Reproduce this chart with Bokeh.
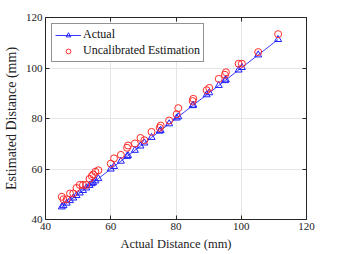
from bokeh.plotting import figure
from bokeh.models import LinearAxis, Range1d, FixedTicker, Legend, LegendItem, CustomLabelingPolicy
from bokeh.embed import file_html
from bokeh.resources import INLINE

actual_x = [45.0, 45.5, 46.5, 47.5, 48.5, 49.5, 50.5, 51.5, 52.5, 53.5, 54.2, 54.6, 55.3, 56.2,
            60.0, 61.0, 63.1, 65.0, 65.3, 67.4, 69.1, 70.3, 72.5, 75.0, 75.3, 77.9, 80.2, 80.7,
            85.1, 85.3, 89.4, 90.2, 93.1, 95.0, 95.3, 99.2, 100.2, 105.2, 111.3]
actual_y = list(actual_x)
estimated_y = [49.0, 48.0, 48.0, 50.3, 50.3, 52.5, 53.7, 53.7, 53.7, 56.1, 57.2, 57.8, 58.9, 59.5,
               62.1, 64.2, 65.6, 68.4, 69.3, 70.1, 72.3, 71.4, 74.7, 76.3, 77.2, 79.2, 81.7, 84.1,
               86.9, 87.8, 91.2, 92.1, 95.7, 97.3, 98.3, 101.7, 101.7, 106.3, 113.4]
ticks = [40, 60, 80, 100, 120]

FONT = "Liberation Serif"
DARK = "#262626"

p = figure(frame_width=261, frame_height=202, output_backend="svg", toolbar_location=None,
           x_range=Range1d(40, 120), y_range=Range1d(40, 120),
           min_border_left=36, min_border_top=17, min_border_right=4, min_border_bottom=4,
           x_axis_label="Actual Distance (mm)", y_axis_label="Estimated Distance (mm)")
p.background_fill_color = "white"
p.border_fill_color = "white"
p.outline_line_color = DARK
p.outline_line_width = 1

for ax in [p.xaxis[0], p.yaxis[0]]:
    ax.ticker = FixedTicker(ticks=ticks)
    ax.major_tick_in = 4
    ax.major_tick_out = 0
    ax.minor_tick_in = 0
    ax.minor_tick_out = 0
    ax.axis_line_color = DARK
    ax.major_tick_line_color = DARK
    ax.major_label_text_font = FONT
    ax.major_label_text_font_size = "11px"
    ax.major_label_text_color = "#222222"
    ax.axis_label_text_font = FONT
    ax.axis_label_text_font_style = "normal"
    ax.axis_label_text_color = "#222222"
    ax.major_label_standoff = 3
    ax.axis_label_standoff = 4
p.xaxis[0].axis_label_text_font_size = "12.5px"
p.yaxis[0].axis_label_text_font_size = "14px"

for loc in ["above", "right"]:
    ax = LinearAxis(ticker=FixedTicker(ticks=ticks), major_tick_in=4, major_tick_out=0,
                    minor_tick_in=0, minor_tick_out=0,
                    major_label_policy=CustomLabelingPolicy(code="for (const i of Array.from(indices)) indices.unset(i)"),
                    axis_line_color=DARK, major_tick_line_color=DARK, major_label_standoff=0)
    p.add_layout(ax, loc)

p.xgrid.ticker = FixedTicker(ticks=ticks)
p.ygrid.ticker = FixedTicker(ticks=ticks)
p.grid.grid_line_color = "#e6e6e6"
p.grid.grid_line_width = 1

ln = p.line(actual_x, actual_y, line_color="#3b3bff", line_width=1)
tri = p.scatter(actual_x, actual_y, marker="triangle", size=7, fill_color=None,
                line_color="#2020ff", line_width=1)
circ = p.scatter(actual_x, estimated_y, marker="circle", size=7, fill_color=None,
                 line_color="#ff2a2a", line_width=1)

legend = Legend(items=[LegendItem(label="Actual", renderers=[ln, tri]),
                       LegendItem(label="Uncalibrated Estimation", renderers=[circ])],
                location="top_left")
legend.label_text_font = FONT
legend.label_text_font_size = "12px"
legend.label_text_color = "#111111"
legend.glyph_width = 26
legend.glyph_height = 12
legend.label_height = 12
legend.spacing = 1
legend.padding = 3
legend.margin = 6
legend.label_standoff = 2
legend.border_line_color = DARK
legend.border_line_width = 1
legend.background_fill_alpha = 1
p.add_layout(legend, "center")

open("out.html", "w").write(file_html(p, INLINE))
